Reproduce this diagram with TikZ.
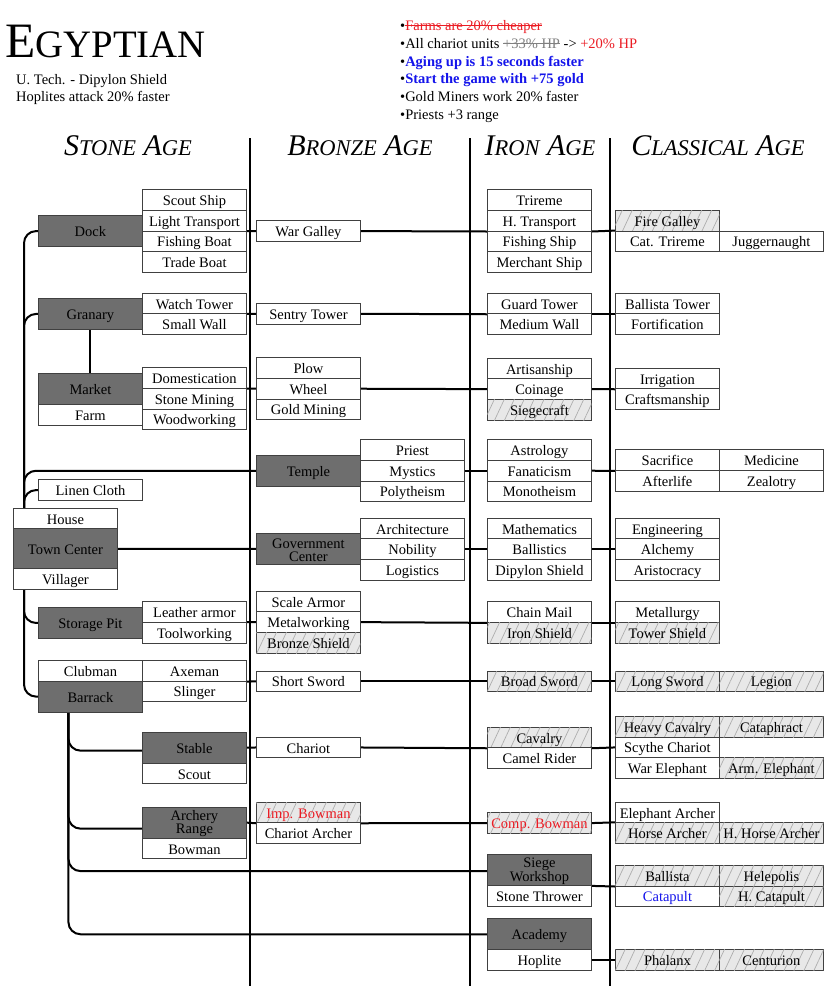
\documentclass[tikz,border=0pt]{standalone}
\usepackage{fontspec}
\setmainfont{Liberation Serif}
\usetikzlibrary{patterns.meta}
\definecolor{nred}{RGB}{235,28,36}
\definecolor{nblue}{RGB}{20,20,235}
\definecolor{darkbox}{RGB}{110,110,110}
\pgfdeclarelayer{bg}
\pgfsetlayers{bg,main}
\newcommand\mystrike[2][black]{\setbox0\hbox{#2}\rlap{\textcolor{#1}{\rule[0.3em]{\wd0}{0.8pt}}}\box0\relax}
\newcommand\agehd[4]{{\itshape\fontsize{30}{30}\selectfont #1\fontsize{22.5}{22.5}\selectfont #2\fontsize{30}{30}\selectfont\ #3\fontsize{22.5}{22.5}\selectfont #4}}
\newcommand\cellbox[5][]{\node[box,#1] (#2) at (#3,#4) {#5};}
\tikzset{
  box/.style={draw=black!75, line width=0.9pt, fill=white, minimum width=104pt, minimum height=20.65pt,
    inner sep=0pt, anchor=north west, text height=12.3pt, text depth=1.2pt, font=\fontsize{14.5}{17}\selectfont},
  dark/.style={fill=darkbox},
  two/.style={align=center, text height=, text depth=, font=\fontsize{14.5}{12.8}\selectfont},
  hatch/.style={fill=black!9, postaction={pattern={Lines[angle=65,distance=9pt,line width=0.7pt]}, pattern color=black!32}},
  conn/.style={line width=2pt, black},
  sepline/.style={line width=2pt, black},
  rc/.style={rounded corners=12pt},
  note/.style={anchor=base west, inner sep=0pt, font=\fontsize{14.5}{17}\selectfont}
}
\begin{document}
\begin{tikzpicture}[x=1pt,y=-1pt]
\useasboundingbox (0,0) rectangle (830,991);
% ---- header ----
\node[anchor=base west, inner sep=0pt] (title) at (5,57.3) {\fontsize{49.5}{49.5}\selectfont E\fontsize{38.8}{38.8}\selectfont GYPTIAN};
\node[note] (utech) at (16,84) {U. Tech. - Dipylon Shield};
\node[note] (hopl) at (16,101.5) {Hoplites attack 20\% faster};
\node[note] (n1) at (400,30.5) {\textbullet\textcolor{nred}{\mystrike[nred]{Farms are 20\% cheaper}}};
\node[note] (n2) at (400,48.3) {\textbullet All chariot units \mystrike[gray]{\textcolor{gray}{+33\% HP}} -> \textcolor{nred}{+20\% HP}};
\node[note] (n3) at (400,66.1) {\textbullet\textcolor{nblue}{\bfseries Aging up is 15 seconds faster}};
\node[note] (n4) at (400,83.9) {\textbullet\textcolor{nblue}{\bfseries Start the game with +75 gold}};
\node[note] (n5) at (400,101.7) {\textbullet Gold Miners work 20\% faster};
\node[note] (n6) at (400,119.5) {\textbullet Priests +3 range};
\node[anchor=base, inner sep=0pt] (h1) at (128,155) {\agehd{S}{TONE}{A}{GE}};
\node[anchor=base, inner sep=0pt] (h2) at (360,155) {\agehd{B}{RONZE}{A}{GE}};
\node[anchor=base, inner sep=0pt] (h3) at (540,155) {\agehd{I}{RON}{A}{GE}};
\node[anchor=base, inner sep=0pt] (h4) at (718,155) {\agehd{C}{LASSICAL}{A}{GE}};
\draw[sepline] (250,138) -- (250,986);
\draw[sepline] (470,138) -- (470,986);
\draw[sepline] (610,138) -- (610,986);
% ---- Dock ----
\cellbox[dark,minimum height=31.3pt]{dock}{38}{215}{Dock}
\cellbox{scout}{142}{189.3}{Scout Ship}
\cellbox{ltrans}{142}{209.95}{Light Transport}
\cellbox{fboat}{142}{230.6}{Fishing Boat}
\cellbox{tboat}{142}{251.25}{Trade Boat}
\cellbox{wgal}{256}{220.3}{War Galley}
\cellbox{trireme}{487}{189.3}{Trireme}
\cellbox{htrans}{487}{209.95}{H. Transport}
\cellbox{fship}{487}{230.6}{Fishing Ship}
\cellbox{mship}{487}{251.25}{Merchant Ship}
\cellbox[hatch]{figal}{615}{209.95}{Fire Galley}
\cellbox{cattri}{615}{230.6}{Cat. Trireme}
\cellbox{jugg}{719}{230.6}{Juggernaught}
% ---- Granary ----
\cellbox[dark,minimum height=31.6pt]{granary}{38}{297.7}{Granary}
\cellbox{watch}{142}{292.7}{Watch Tower}
\cellbox{swall}{142}{313.35}{Small Wall}
\cellbox{sentry}{256}{303}{Sentry Tower}
\cellbox{guard}{487}{292.7}{Guard Tower}
\cellbox{mwall}{487}{313.35}{Medium Wall}
\cellbox{btower}{615}{292.7}{Ballista Tower}
\cellbox{fort}{615}{313.35}{Fortification}
% ---- Market ----
\cellbox[dark,minimum height=31.3pt]{market}{38}{372.7}{Market}
\cellbox{farm}{38}{404}{Farm}
\cellbox{domest}{142}{367.3}{Domestication}
\cellbox{smining}{142}{387.95}{Stone Mining}
\cellbox{wood}{142}{408.6}{Woodworking}
\cellbox{plow}{256}{357.3}{Plow}
\cellbox{wheel}{256}{377.95}{Wheel}
\cellbox{gmining}{256}{398.6}{Gold Mining}
\cellbox{artis}{487}{357.7}{Artisanship}
\cellbox{coin}{487}{378.35}{Coinage}
\cellbox[hatch]{siegecraft}{487}{399}{Siegecraft}
\cellbox{irrig}{615}{367.7}{Irrigation}
\cellbox{crafts}{615}{388.35}{Craftsmanship}
% ---- Temple ----
\cellbox[dark,minimum height=30.8pt]{temple}{256}{454.9}{Temple}
\cellbox{priest}{360}{439.3}{Priest}
\cellbox{mystics}{360}{459.95}{Mystics}
\cellbox{poly}{360}{480.6}{Polytheism}
\cellbox{astro}{487}{439.3}{Astrology}
\cellbox{fanat}{487}{459.95}{Fanaticism}
\cellbox{mono}{487}{480.6}{Monotheism}
\cellbox{sacr}{615}{449.3}{Sacrifice}
\cellbox{after}{615}{469.95}{Afterlife}
\cellbox{medic}{719}{449.3}{Medicine}
\cellbox{zeal}{719}{469.95}{Zealotry}
% ---- Linen / Town Center ----
\cellbox{linen}{38}{479.3}{Linen Cloth}
\cellbox{house}{13}{507.7}{House}
\cellbox[dark,minimum height=40pt]{tc}{13}{528.35}{Town Center}
\cellbox{vill}{13}{568.35}{Villager}
\cellbox[dark,two,minimum height=31.6pt]{gov}{256}{532.6}{\rule{0pt}{12pt}Government\\Center}
\cellbox{archi}{360}{517.7}{Architecture}
\cellbox{nobil}{360}{538.35}{Nobility}
\cellbox{logis}{360}{559}{Logistics}
\cellbox{math}{487}{517.7}{Mathematics}
\cellbox{ballis}{487}{538.35}{Ballistics}
\cellbox{dipy}{487}{559}{Dipylon Shield}
\cellbox{engin}{615}{517.7}{Engineering}
\cellbox{alch}{615}{538.35}{Alchemy}
\cellbox{aristo}{615}{559}{Aristocracy}
% ---- Storage Pit ----
\cellbox[dark,minimum height=31.6pt]{store}{38}{606.7}{Storage Pit}
\cellbox{leather}{142}{601.3}{Leather armor}
\cellbox{toolw}{142}{621.95}{Toolworking}
\cellbox{scale}{256}{590.7}{Scale Armor}
\cellbox{metalw}{256}{611.35}{Metalworking}
\cellbox[hatch]{bshield}{256}{632}{Bronze Shield}
\cellbox{chain}{487}{601.3}{Chain Mail}
\cellbox[hatch]{ishield}{487}{621.95}{Iron Shield}
\cellbox{metall}{615}{601.3}{Metallurgy}
\cellbox[hatch]{tshield}{615}{621.95}{Tower Shield}
% ---- Barrack ----
\cellbox{club}{38}{660}{Clubman}
\cellbox[dark,minimum height=31pt]{barrack}{38}{680.65}{Barrack}
\cellbox{axe}{142}{660}{Axeman}
\cellbox{sling}{142}{680.65}{Slinger}
\cellbox{ssword}{256}{670.65}{Short Sword}
\cellbox[hatch]{bsword}{487}{670.65}{Broad Sword}
\cellbox[hatch]{lsword}{615}{670.65}{Long Sword}
\cellbox[hatch]{legion}{719}{670.65}{Legion}
% ---- Stable ----
\cellbox[dark,minimum height=31pt]{stable}{142}{731.7}{Stable}
\cellbox{scoutu}{142}{762.7}{Scout}
\cellbox{chariot}{256}{736.7}{Chariot}
\cellbox[hatch]{cav}{487}{726.7}{Cavalry}
\cellbox{camel}{487}{747.35}{Camel Rider}
\cellbox[hatch]{hcav}{615}{716}{Heavy Cavalry}
\cellbox{scythe}{615}{736.65}{Scythe Chariot}
\cellbox{welep}{615}{757.3}{War Elephant}
\cellbox[hatch]{cata}{719}{716}{Cataphract}
\cellbox[hatch]{aelep}{719}{757.3}{Arm. Elephant}
% ---- Archery Range ----
\cellbox[dark,two,minimum height=31pt]{arch}{142}{806.7}{\rule{0pt}{12pt}Archery\\Range}
\cellbox{bowman}{142}{837.7}{Bowman}
\cellbox[hatch]{impb}{256}{801.7}{\textcolor{nred}{Imp. Bowman}}
\cellbox{charch}{256}{822.35}{Chariot Archer}
\cellbox[hatch]{compb}{487}{812.3}{\textcolor{nred}{Comp. Bowman}}
\cellbox{elarch}{615}{801.7}{Elephant Archer}
\cellbox[hatch]{harch}{615}{822.35}{Horse Archer}
\cellbox[hatch]{hharch}{719}{822.35}{H. Horse Archer}
% ---- Siege Workshop ----
\cellbox[dark,two,minimum height=30.7pt]{siegew}{487}{854.3}{\rule{0pt}{12pt}Siege\\Workshop}
\cellbox{sthrow}{487}{885}{Stone Thrower}
\cellbox[hatch]{ballista}{615}{864.95}{Ballista}
\cellbox{catap}{615}{885.6}{\textcolor{nblue}{Catapult}}
\cellbox[hatch]{helep}{719}{864.95}{Helepolis}
\cellbox[hatch]{hcatap}{719}{885.6}{H. Catapult}
% ---- Academy ----
\cellbox[dark,minimum height=31pt]{acad}{487}{918.3}{Academy}
\cellbox{hoplite}{487}{949.3}{Hoplite}
\cellbox[hatch]{phal}{615}{949.3}{Phalanx}
\cellbox[hatch]{cent}{719}{949.3}{Centurion}
% ---- connectors ----
\begin{pgfonlayer}{bg}
\fill[white] (0,0) rectangle (830,991);
\coordinate (trunk) at ([xshift=11pt]tc.west);
\coordinate (btrunk) at ([xshift=-22pt]barrack.south);
\draw[conn,rc] (trunk) |- (dock.west);
\draw[conn,rc] (trunk) |- (granary.west);
\draw[conn,rc] (trunk) |- (temple.west);
\draw[conn,rc] (trunk) |- (linen.west);
\draw[conn,rc] (trunk) |- (store.west);
\draw[conn,rc] (trunk) |- (barrack.west);
\draw[conn,rc] (btrunk) |- ([yshift=-3pt]stable.west);
\draw[conn,rc] (btrunk) |- ([yshift=-6pt]arch.west);
\draw[conn,rc] (btrunk) |- ([yshift=-1pt]siegew.west);
\draw[conn,rc] (btrunk) |- (acad.west);
\draw[conn] (granary.south) -- (market.north);
\draw[conn] (dock.east) -- (wgal.west);
\draw[conn] (wgal.east) -- (htrans.south west);
\draw[conn] (htrans.south east) -- (cattri.north west);
\draw[conn] (granary.east) -- (sentry.west);
\draw[conn] (sentry.east) -- (guard.south west);
\draw[conn] (guard.south east) -- (btower.south west);
\draw[conn] (market.east) -- (wheel.west);
\draw[conn] (wheel.east) -- (coin.west);
\draw[conn] (coin.east) -- (irrig.south west);
\draw[conn] (mystics.east) -- (fanat.west);
\draw[conn] (fanat.east) -- (sacr.south west);
\draw[conn] (tc.east) -- (gov.west);
\draw[conn] (nobil.east) -- (ballis.west);
\draw[conn] (ballis.east) -- (alch.west);
\draw[conn] (store.east) -- (metalw.west);
\draw[conn] (metalw.east) -- (chain.south west);
\draw[conn] (chain.south east) -- (metall.south west);
\draw[conn] (axe.south east) -- (ssword.west);
\draw[conn] (ssword.east) -- (bsword.west);
\draw[conn] (bsword.east) -- (lsword.west);
\draw[conn] (stable.east) -- (chariot.west);
\draw[conn] (chariot.east) -- (cav.south west);
\draw[conn] (cav.south east) -- (scythe.west);
\draw[conn] (arch.east) -- (impb.south west);
\draw[conn] (impb.south east) -- (compb.west);
\draw[conn] (compb.east) -- (harch.north west);
\draw[conn] (siegew.south east) -- (ballista.south west);
\draw[conn] (hoplite.east) -- (phal.west);
\end{pgfonlayer}
\end{tikzpicture}
\end{document}
